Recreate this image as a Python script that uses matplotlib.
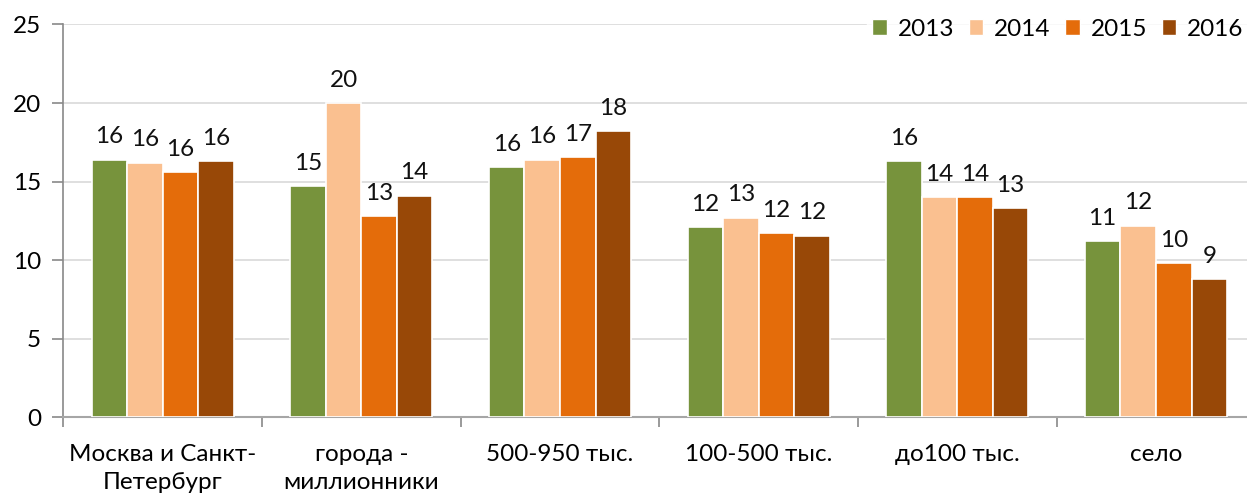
import numpy as np
import matplotlib.pyplot as plt
from matplotlib.patches import Patch

# Категории и значения по годам
categories = ['Москва и Санкт-\nПетербург', 'города -\nмиллионники', '500-950 тыс.',
              '100-500 тыс.', 'до100 тыс.', 'село']
years = ['2013', '2014', '2015', '2016']
v2013 = [16.4, 14.7, 15.9, 12.1, 16.3, 11.2]
v2014 = [16.2, 20.0, 16.4, 12.7, 14.0, 12.2]
v2015 = [15.6, 12.8, 16.55, 11.7, 14.0, 9.8]
v2016 = [16.3, 14.1, 18.2, 11.55, 13.3, 8.8]
colors = ['#77933C', '#FAC090', '#E46C0A', '#984807']

plt.rcParams['font.family'] = ['Lato', 'DejaVu Sans']
fs = 17.5

fig = plt.figure(figsize=(12.47, 4.96), dpi=100)
ax = fig.add_axes([63.3 / 1247, 78.7 / 496, 1192 / 1247, 392.8 / 496])

x = np.arange(len(categories)) + 0.5
bw = 0.179
series = [v2013, v2014, v2015, v2016]
for i, (vals, c) in enumerate(zip(series, colors)):
    pos = x + (i - 1.5) * bw
    bars = ax.bar(pos, vals, width=bw, color=c, edgecolor='white', linewidth=1.2, zorder=3)
    for b, v in zip(bars, vals):
        ax.annotate(f'{v:.0f}', (b.get_x() + b.get_width() / 2, v),
                    xytext=(0, 9), textcoords='offset points',
                    ha='center', va='bottom', fontsize=fs, color='#111111')

ax.set_xlim(0, 6)
ax.set_ylim(0, 25)
ax.set_yticks(range(0, 26, 5))
ax.yaxis.grid(True, color='#D9D9D9', linewidth=1.2, zorder=0)
ax.set_axisbelow(True)

# деления на границах категорий, подписи по центру
ax.set_xticks(range(0, 7))
ax.set_xticklabels([])
ax.set_xticks(x, minor=True)
ax.set_xticklabels(categories, minor=True, fontsize=fs)
ax.tick_params(axis='x', which='minor', length=0, pad=19)
ax.tick_params(axis='x', which='major', length=7, color='#898989', width=1.2)
ax.tick_params(axis='y', length=8, color='#898989', width=1.2, labelsize=fs, pad=8)
for lbl in ax.get_xticklabels(minor=True):
    lbl.set_linespacing(1.45)

for s in ['top', 'right']:
    ax.spines[s].set_visible(False)
ax.spines['left'].set_color('#898989')
ax.spines['bottom'].set_color('#A6A6A6')
ax.spines['left'].set_linewidth(1.2)
ax.spines['bottom'].set_linewidth(1.5)

handles = [Patch(facecolor=c, edgecolor='white') for c in colors]
leg = fig.legend(handles, years, ncol=4, loc='center right',
                 bbox_to_anchor=(1.011, 1 - 29 / 496), frameon=True, fontsize=fs,
                 handlelength=0.6, handleheight=0.6, handletextpad=0.45,
                 columnspacing=0.6, borderpad=0.2)
leg.get_frame().set_facecolor('white')
leg.get_frame().set_edgecolor('white')

fig.savefig('out.png', dpi=100)
